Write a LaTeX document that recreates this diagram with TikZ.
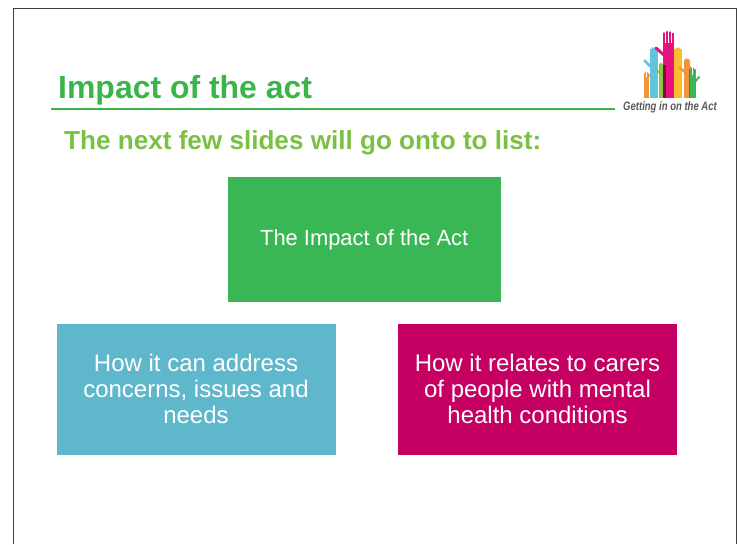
\documentclass[tikz,border=0pt]{standalone}
\usepackage{fontspec}
\setmainfont{Liberation Sans}
\definecolor{titlegreen}{HTML}{39B54A}
\definecolor{subgreen}{HTML}{7AC143}
\definecolor{boxgreen}{HTML}{39B754}
\definecolor{boxblue}{HTML}{5FB7CC}
\definecolor{boxpink}{HTML}{C50062}
\definecolor{hpink}{HTML}{E5127F}
\definecolor{hblue}{HTML}{62C3DE}
\definecolor{hyellow}{HTML}{FDBB30}
\definecolor{horange}{HTML}{F0953A}
\definecolor{hgreen}{HTML}{3FB55A}
\definecolor{hlime}{HTML}{8CC63F}
\tikzset{
  slidebox/.style={draw=none,inner sep=0pt,align=center,text=white,font=\fontsize{24}{26}\selectfont},
  titletext/.style={anchor=base west,inner sep=0pt,text=titlegreen,font=\fontsize{31.95}{36}\selectfont\bfseries},
  subtext/.style={anchor=base west,inner sep=0pt,text=subgreen,font=\fontsize{26.1}{30}\selectfont\bfseries},
}
% x = centre, t = top of fingers, w = arm width, c = colour
\newcommand{\handshape}[4]{%
  \fill[#4] ({#1-#3/2},98) rectangle ({#1+#3/2},{#2+0.9*#3+2});
  \foreach \i/\dy in {-0.375/1.3,-0.125/0,0.125/0.3,0.375/1.6}{
    \draw[#4,line cap=round,line width={#3*0.2}] ({#1+\i*#3},{#2+1.1*#3+2}) -- ({#1+\i*#3},{#2+\dy+1});
  }
}
\begin{document}
\begin{tikzpicture}[x=1pt,y=-1pt]
\useasboundingbox (0,0) rectangle (738,544);
\fill[white] (0,0) rectangle (738,544);
% slide frame
\draw[black!75,line width=1.1pt] (13.5,544) -- (13.5,8.5) -- (736.5,8.5) -- (736.5,544);
% title
\node[titletext] (title) at (58,98) {Impact of the act};
\coordinate (ruleL) at (51,109);
\coordinate (ruleR) at (615,109);
\draw[titlegreen,line width=1.4pt] (ruleL) -- (ruleR);
\node[subtext] (sub) at (64,149.5) {The next few slides will go onto to list:};
% boxes
\fill[boxgreen] (228,177) rectangle (501,302);
\node[slidebox,font=\fontsize{21.9}{26}\selectfont] (a) at (364.2,240) {The Impact of the Act};
\fill[boxblue] (57,324) rectangle (336,455);
\node[slidebox] (b) at (196,388.5) {How it can address\\concerns, issues and\\needs};
\fill[boxpink] (398,324) rectangle (677,455);
\node[slidebox] (c) at (537.5,388.5) {How it relates to carers\\of people with mental\\health conditions};
% logo hands
\handshape{646.5}{71}{5}{horange}
\draw[horange,line cap=round,line width=1.6pt] (645,80) -- (650,75);
\draw[hblue,line cap=round,line width=2.6pt] (644.5,60.5) -- (651,67);
\handshape{654}{47}{8}{hblue}
\draw[hlime,line cap=round,line width=1.8pt] (657,70) -- (661,75);
\handshape{661}{62}{4}{hlime}
\draw[hpink,line cap=round,line width=3pt] (656,48) -- (665,56);
\handshape{668.5}{31}{11}{hpink}
\fill[black!55!hpink,opacity=.75] (663,65) rectangle (665.5,98);
\handshape{678}{47}{8}{hyellow}
\draw[horange,line cap=round,line width=2.4pt] (680,68) -- (686,73);
\handshape{687}{58}{7}{horange}
\draw[hgreen,line cap=round,line width=2pt] (699,77) -- (695,82);
\handshape{692.5}{67}{7}{hgreen}
\fill[black!45!horange,opacity=.7] (688.5,70) rectangle (690,98);
\node[inner sep=0pt,text=black!65] (logo) at (670,107.5) {\scalebox{0.78}[1]{\fontsize{12.2}{14}\selectfont\bfseries\itshape Getting in on the Act}};
\end{tikzpicture}
\end{document}
